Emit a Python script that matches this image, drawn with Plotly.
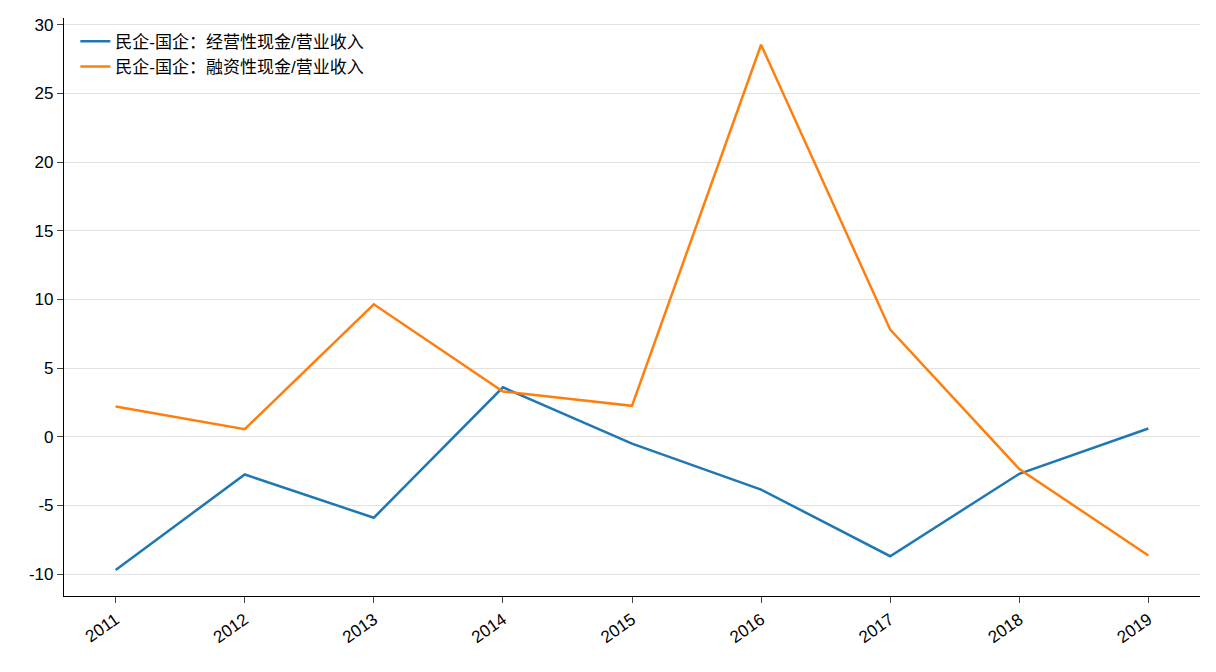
import plotly.graph_objects as go

years = [2011, 2012, 2013, 2014, 2015, 2016, 2017, 2018, 2019]
operating = [-9.7, -2.75, -5.9, 3.6, -0.5, -3.85, -8.7, -2.7, 0.6]
financing = [2.2, 0.55, 9.65, 3.3, 2.25, 28.55, 7.8, -2.35, -8.65]
names = ["民企-国企：经营性现金/营业收入", "民企-国企：融资性现金/营业收入"]
y_ticks = [-10, -5, 0, 5, 10, 15, 20, 25, 30]
y_labels = [str(v) for v in y_ticks]

fig = go.Figure()
fig.add_trace(go.Scatter(x=years, y=operating, mode="lines", name=names[0],
                         line=dict(color="#1f77b4", width=2.5)))
fig.add_trace(go.Scatter(x=years, y=financing, mode="lines", name=names[1],
                         line=dict(color="#ff7f0e", width=2.5)))

fig.update_layout(
    width=1216, height=672,
    margin=dict(l=56, r=24, t=8, b=84),
    plot_bgcolor="white", paper_bgcolor="white",
    font=dict(family="Liberation Sans, Noto Sans CJK SC", size=17, color="black"),
    showlegend=True,
    legend=dict(x=0.01, y=0.99, xanchor="left", yanchor="top",
                bgcolor="rgba(0,0,0,0)", font=dict(size=17)),
    xaxis=dict(range=[2010.6, 2019.4], tickvals=years, tickangle=-35,
               showgrid=False, showline=True, linecolor="black", linewidth=1.2,
               ticks="outside", ticklen=6, zeroline=False),
    yaxis=dict(range=[-11.6, 30.5], tickvals=y_ticks, ticktext=y_labels,
               showgrid=True, gridcolor="#e3e3e3", showline=True, linecolor="black",
               linewidth=1.2, ticks="outside", ticklen=6, zeroline=False),
)

fig.write_html("out.html")
